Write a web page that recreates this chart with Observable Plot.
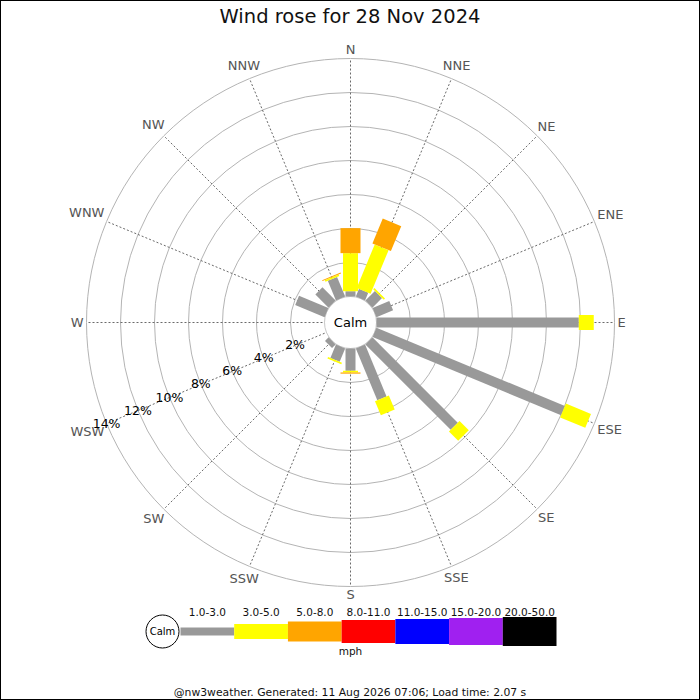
<!DOCTYPE html>
<html>
<head>
<meta charset="utf-8">
<script src="https://cdn.jsdelivr.net/npm/d3@7"></script>
<script src="https://cdn.jsdelivr.net/npm/@observablehq/plot@0.6"></script>
<style>
  body { margin: 0; }
  #chart { position: relative; width: 700px; height: 700px; background: #fff; font-family: "DejaVu Sans", sans-serif; overflow: hidden; }
  #frame { position: absolute; left: 0; top: 0; width: 700px; height: 700px; box-sizing: border-box; border: 1px solid #000; pointer-events: none; }
  #title { position: absolute; left: 0; top: 0; width: 700px; height: 34px; line-height: 34px; text-align: center; font-size: 19.5px; color: #111; }
  #rose { position: absolute; left: 0; top: 34px; }
  #legend { position: absolute; left: 0; top: 596px; }
  #footer { position: absolute; left: 0; top: 685px; width: 700px; line-height: 16px; text-align: center; font-size: 10.8px; color: #111; }
</style>
</head>
<body>
<div id="chart">
  <div id="title">Wind rose for 28 Nov 2024</div>
  <div id="rose"></div>
  <div id="legend"></div>
  <div id="footer">@nw3weather. Generated: 11 Aug 2026 07:06; Load time: 2.07 s</div>
  <div id="frame"></div>
</div>
<script>
const directions = ["N", "NNE", "NE", "ENE", "E", "ESE", "SE", "SSE",
                    "S", "SSW", "SW", "WSW", "W", "WNW", "NW", "NNW"];
const speedBands = ["1.0-3.0", "3.0-5.0", "5.0-8.0", "8.0-11.0", "11.0-15.0", "15.0-20.0", "20.0-50.0"];
const bandColors = ["#999999", "#ffff00", "#ffa500", "#ff0000", "#0000ff", "#a020f0", "#000000"];

// % of the day per direction, one list per speed band (mph)
const speed1to3   = [0.31, 0.49, 0.8, 1.06, 11.9, 12.0, 7.1, 3.3, 1.31, 0.85, 0.3, 0, 0, 1.87, 1.1, 1.25];
const speed3to5   = [2.24, 2.77, 0.1, 0, 0.88, 1.6, 0.77, 0.9, 0.1, 0.1, 0, 0, 0, 0, 0, 0.1];
const speed5to8   = [1.47, 1.59, 0, 0, 0, 0, 0, 0, 0.07, 0, 0, 0, 0, 0, 0, 0.06];
const speed8to11  = [0, 0, 0, 0, 0, 0, 0, 0, 0, 0, 0, 0, 0, 0, 0, 0];
const speed11to15 = [0, 0, 0, 0, 0, 0, 0, 0, 0, 0, 0, 0, 0, 0, 0, 0];
const speed15to20 = [0, 0, 0, 0, 0, 0, 0, 0, 0, 0, 0, 0, 0, 0, 0, 0];
const speed20to50 = [0, 0, 0, 0, 0, 0, 0, 0, 0, 0, 0, 0, 0, 0, 0, 0];
const bandSeries = [speed1to3, speed3to5, speed5to8, speed8to11, speed11to15, speed15to20, speed20to50];

const ringPcts = [2, 4, 6, 8, 10, 12, 14];
const pctLabelDir = 11; // WSW

// styles
const roseWidths = [10, 15, 20, 23, 25, 27, 29];
const legendWidths = [8, 15, 20, 23, 25, 27, 29];
const font = "DejaVu Sans";

// rose geometry: 1 scale unit = 1 px
const calmR = 26, pxPerPct = 17;
const radius = p => calmR + pxPerPct * p;
const rad = i => i * 22.5 * Math.PI / 180;
const polarX = (r, i) => r * Math.sin(rad(i));
const polarY = (r, i) => r * Math.cos(rad(i));

const segments = [];
directions.forEach((dir, i) => {
  let cum = 0;
  bandSeries.forEach((series, b) => {
    const v = series[i];
    if (v > 0) segments.push({dir, i, b, band: speedBands[b], r0: radius(cum), r1: radius(cum + v)});
    cum += v;
  });
});

// push compass labels out so their box clears the outer ring
const charEm = {N: 0.748, E: 0.632, S: 0.635, W: 0.989};
const labelR = (d, i) => {
  const halfW = [...d].reduce((s, c) => s + charEm[c], 0) * 13 / 2;
  return 267 + halfW * Math.abs(Math.sin(rad(i))) + 5.5 * Math.abs(Math.cos(rad(i)));
};

const color = {domain: speedBands, range: bandColors};

const rose = Plot.plot({
  width: 700, height: 600, margin: 0,
  style: {fontFamily: font, background: "transparent"},
  x: {domain: [-350, 350], axis: null},
  y: {domain: [-312, 288], axis: null},
  r: {type: "identity"},
  color,
  marks: [
    Plot.dot(ringPcts, {x: 0, y: 0, r: radius, stroke: "#b4b4b4", strokeWidth: 1, fill: "none"}),
    Plot.link(directions, {
      x1: 0, y1: 0,
      x2: (d, i) => polarX(radius(14), i), y2: (d, i) => polarY(radius(14), i),
      stroke: "#444", strokeWidth: 0.8, strokeDasharray: "2,2"
    }),
    Plot.dot(["Calm"], {x: 0, y: 0, r: calmR, fill: "white", stroke: "#c8c8c8", strokeWidth: 1}),
    Plot.link(segments, {
      x1: d => polarX(d.r0, d.i), y1: d => polarY(d.r0, d.i),
      x2: d => polarX(d.r1, d.i), y2: d => polarY(d.r1, d.i),
      stroke: "band", strokeWidth: d => roseWidths[d.b]
    }),
    Plot.text(directions, {
      x: (d, i) => polarX(labelR(d, i), i), y: (d, i) => polarY(labelR(d, i), i),
      text: d => d, fill: "#555", fontSize: 13, fontFamily: font
    }),
    Plot.text(ringPcts, {
      x: p => polarX(radius(p), pctLabelDir), y: p => polarY(radius(p), pctLabelDir),
      text: p => p + "%", fill: "#000", fontSize: 12.5, fontFamily: font
    }),
    Plot.text(["Calm"], {x: 0, y: 0, text: d => d, fill: "#000", fontSize: 13, fontFamily: font})
  ]
});
document.getElementById("rose").append(rose);

const legend = Plot.plot({
  width: 700, height: 70, margin: 0,
  style: {fontFamily: font, background: "transparent"},
  x: {domain: [0, speedBands.length], range: [180, 556], axis: null},
  y: {domain: [-35, 35], axis: null},
  color,
  marks: [
    Plot.link(speedBands, {
      x1: (d, i) => i, x2: (d, i) => i + 1, y1: 0, y2: 0,
      stroke: d => d, strokeWidth: (d, i) => legendWidths[i]
    }),
    Plot.text(speedBands, {x: (d, i) => i + 0.5, frameAnchor: "top", dy: 12, text: d => d,
                           fill: "#111", fontSize: 10.5, fontFamily: font}),
    Plot.dot(["Calm"], {x: 0, y: 0, dx: -18, r: 16.5, fill: "white", stroke: "#000", strokeWidth: 1}),
    Plot.text(["Calm"], {x: 0, y: 0, dx: -18, text: d => d, fill: "#000", fontSize: 10, fontFamily: font}),
    Plot.text(["mph"], {frameAnchor: "bottom", dy: -12, text: d => d, fill: "#111", fontSize: 10.5, fontFamily: font})
  ]
});
document.getElementById("legend").append(legend);
</script>
</body>
</html>
